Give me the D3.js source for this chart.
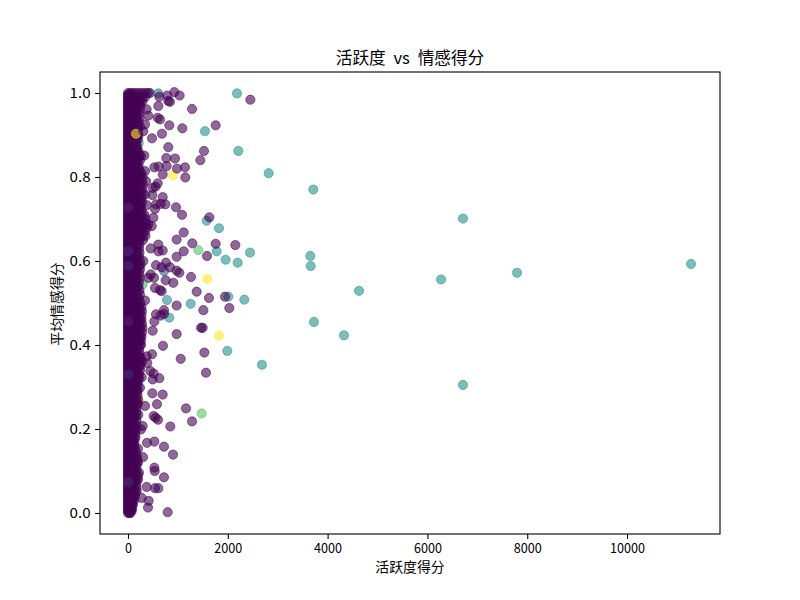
<!DOCTYPE html>
<html><head><meta charset="utf-8">
<script src="https://cdn.jsdelivr.net/npm/d3@7"></script>
<style>html,body{margin:0;padding:0;background:#fff}svg{display:block}</style>
</head><body><div id="c"></div>
<script>
const chartTitle = "活跃度 vs 情感得分";
const xLabel = "活跃度得分";
const yLabel = "平均情感得分";
const xTicks = [0,2000,4000,6000,8000,10000];
const yTicks = [0,0.2,0.4,0.6,0.8,1.0];

// Saturated column near zero: [sentiment, activity, activity, ...]
const denseRows = [
[1.00,0,50,100,160,220,280,340,400,440],[0.99,0,50,110,170,230,290,340],[0.98,0,60,120,180,240,290],[0.97,0,50,110,170,220,250],[0.96,0,60,120,180,240],
[0.95,0,50,100,160,220],[0.94,0,60,120,180,230],[0.93,0,50,110,170,210],[0.92,0,60,120,180,240],[0.91,0,50,100,150,200],
[0.90,0,60,120,180,210],[0.89,0,50,110,170,200],[0.88,0,60,120,170],[0.87,0,50,100,160,190],[0.86,0,60,120,180,210],
[0.85,0,50,110,170,230,260],[0.84,0,60,120,180,240],[0.83,0,50,100,160,210],[0.82,0,60,120,180,220],[0.81,0,50,110,170,230,270],
[0.80,0,60,120,180,240,290],[0.79,0,50,100,160,220,280],[0.78,0,60,120,180,240,300],[0.77,0,50,110,170,230,280],[0.76,0,60,120,180,240,290],
[0.75,0,50,100,160,220,270],[0.74,0,60,120,180,240,280],[0.73,0,50,110,170,230,260],[0.72,0,60,120,180,240,270],[0.71,0,50,100,160,220,280,330],
[0.70,0,60,120,180,240,300,350],[0.69,0,50,110,170,230,290,360],[0.68,0,60,120,180,240,300,380],[0.67,0,50,100,160,220,280,340],[0.66,0,60,120,180,240,300,350],
[0.65,0,50,110,170,230,300],[0.64,0,60,120,180,230],[0.63,0,50,100,160,220],[0.62,0,60,120,180,230],[0.61,0,50,110,170,220],
[0.60,0,60,120,180,240],[0.59,0,50,100,160,220,250],[0.58,0,60,120,180,240],[0.57,0,50,110,170,230],[0.56,0,60,120,180,230],
[0.55,0,50,100,160,220],[0.54,0,60,120,180,210],[0.53,0,50,110,170,230],[0.52,0,60,120,180,240],[0.51,0,50,100,160,220],
[0.50,0,60,120,180,250],[0.49,0,50,110,170,230,270],[0.48,0,60,120,180,240,280],[0.47,0,50,100,160,220,270],[0.46,0,60,120,180,240,270],
[0.45,0,50,110,170,230,280],[0.44,0,60,120,180,240,290],[0.43,0,50,100,160,220,280],[0.42,0,60,120,180,240,270],[0.41,0,50,110,170,230,260],
[0.40,0,60,120,180,240,260],[0.39,0,50,100,160,220],[0.38,0,60,120,180,230],[0.37,0,50,110,170,230,260],[0.36,0,60,120,180,240,280],
[0.35,0,50,100,160,220,250],[0.34,0,60,120,180,240],[0.33,0,50,110,170,220],[0.32,0,60,120,180,220],[0.31,0,50,100,160,200],
[0.30,0,60,120,190],[0.29,0,50,110,170,190],[0.28,0,60,120,190],[0.27,0,50,100,160,200],[0.26,0,60,120,180,200],
[0.25,0,50,110,170],[0.24,0,60,120,170],[0.23,0,50,100,160],[0.22,0,60,120,170],[0.21,0,50,110,160],
[0.20,0,60,120,160],[0.19,0,50,100,150],[0.18,0,60,120,150],[0.17,0,50,100,130],[0.16,0,60,130],
[0.15,0,50,110,150],[0.14,0,60,120,170],[0.13,0,50,100,160,190],[0.12,0,60,120,180,200],[0.11,0,50,110,170],
[0.10,0,60,120,170],[0.09,0,50,100,160,200],[0.08,0,60,120,180,200],[0.07,0,50,110,170],[0.06,0,60,120,170],
[0.05,0,50,100,150],[0.04,0,60,120,140],[0.03,0,50,90,120],[0.02,0,40,80,100],[0.01,0,30,60,80],[0.00,0,30,50]
];
// More near-zero users between the rows above
const fillActivity = [0,12,30,75];
const fillSentiment = [0.995,0.985,0.975,0.965,0.955,0.945,0.935,0.925,0.915,0.905,0.895,0.885,0.875,0.865,0.855,0.845,0.835,0.825,0.815,0.805,0.795,0.785,0.775,0.765,0.755,0.745,0.735,0.725,0.715,0.705,0.695,0.685,0.675,0.665,0.655,0.645,0.635,0.625,0.615,0.605,0.595,0.585,0.575,0.565,0.555,0.545,0.535,0.525,0.515,0.505,0.495,0.485,0.475,0.465,0.455,0.445,0.435,0.425,0.415,0.405,0.395,0.385,0.375,0.365,0.355,0.345,0.335,0.325,0.315,0.305,0.295,0.285,0.275,0.265,0.255,0.245,0.235,0.225,0.215,0.205,0.195,0.185,0.175,0.165,0.155,0.145,0.135,0.125,0.115,0.105,0.095,0.085,0.075,0.065,0.055,0.045,0.035,0.025,0.015,0.005];

// Individually readable purple points
const purpleActivity = [929,788,1035,808,840,608,628,1283,2452,407,374,595,641,828,1089,1757,341,681,481,307,808,1523,768,942,1450,528,615,775,982,1142,695,1149,327,341,361,595,554,494,488,341,695,748,561,655,541,374,962,1082,1630,508,407,475,1116,975,608,454,608,695,1289,1757,2151,1116,1583,975,307,561,761,675,842,975,1029,454,407,521,1263,755,908,541,641,675,1376,1623,1944,341,975,1510,2031,721,721,655,561,528,494,975,1463,1496,701,1530,481,1056,374,387,1563,447,514,628,494,274,240,488,695,581,341,1162,514,601,555,1283,207,294,848,261,381,528,721,200,301,902,528,535,220,721,374,541,608,274,414,401,795,174];
const purpleSentiment = [1.002,0.994,0.994,0.981,0.979,0.969,0.991,0.962,0.984,0.946,0.961,0.941,0.937,0.923,0.916,0.923,0.925,0.903,0.892,0.909,0.871,0.862,0.845,0.844,0.840,0.823,0.825,0.826,0.820,0.823,0.806,0.799,0.851,0.814,0.790,0.785,0.777,0.774,0.757,0.758,0.752,0.735,0.735,0.736,0.724,0.733,0.728,0.710,0.704,0.703,0.687,0.683,0.668,0.651,0.639,0.630,0.623,0.625,0.642,0.641,0.638,0.623,0.612,0.610,0.600,0.590,0.596,0.585,0.585,0.577,0.572,0.568,0.560,0.560,0.562,0.554,0.548,0.536,0.531,0.528,0.527,0.512,0.515,0.506,0.494,0.483,0.488,0.483,0.474,0.470,0.473,0.456,0.434,0.426,0.441,0.441,0.398,0.382,0.378,0.367,0.373,0.357,0.334,0.338,0.332,0.321,0.318,0.323,0.298,0.285,0.282,0.259,0.255,0.249,0.231,0.222,0.227,0.218,0.234,0.207,0.206,0.199,0.167,0.170,0.158,0.153,0.133,0.139,0.108,0.100,0.096,0.085,0.062,0.059,0.059,0.036,0.029,0.013,0.002,0.052];

// Other groups partly hidden under the column
const underActivity = [154,220,220,294];
const underSentiment = [0.390,0.268,0.881,0.544];
const underColor = [1,1,0.68,0.68];

// Other groups lying on top: value on the colour scale
const otherActivity = [2184,1543,2211,2819,3714,1577,1824,1777,2445,1957,2198,3654,3661,782,1256,2331,2011,6713,11283,7796,6273,4629,3727,4329,2685,6713,1990,828,608,1409,1476,902,1590,1824,160,7,7,7,721,7,7,7];
const otherSentiment = [0.999,0.909,0.862,0.809,0.770,0.696,0.678,0.623,0.620,0.603,0.596,0.612,0.588,0.507,0.498,0.508,0.515,0.701,0.593,0.572,0.556,0.529,0.455,0.423,0.353,0.305,0.386,0.465,0.999,0.626,0.237,0.804,0.557,0.422,0.903,0.727,0.623,0.588,0.576,0.457,0.330,0.073];
const otherColor = [0.5,0.5,0.5,0.5,0.5,0.5,0.5,0.5,0.5,0.5,0.5,0.5,0.5,0.5,0.5,0.5,0.5,0.5,0.5,0.5,0.5,0.5,0.5,0.5,0.5,0.5,0.5,0.5,0.4,0.73,0.73,1,1,1,1,0.1,0.12,0.1,0.25,0.1,0.12,0.12];

const W=800,H=600,m={l:100,r:720,t:72,b:534};
const svg=d3.select("#c").append("svg").attr("width",W).attr("height",H);
const cjk="'Noto Sans CJK SC','Noto Sans',sans-serif";
const x=d3.scaleLinear().domain([-561,11863]).range([m.l,m.r]);
const y=d3.scaleLinear().domain([-0.05,1.05]).range([m.b,m.t]);
const color=d3.scaleSequential(d3.interpolateViridis).domain([0,1]);

const under=underActivity.map((a,i)=>({a,s:underSentiment[i],c:underColor[i]}));
const dense=denseRows.flatMap(r=>r.slice(1).map(a=>({a,s:r[0],c:0})));
const fill=fillSentiment.flatMap(s=>fillActivity.map(a=>({a,s,c:0})));
const others=otherActivity.map((a,i)=>({a,s:otherSentiment[i],c:otherColor[i]}));
const purple=purpleActivity.map((a,i)=>({a,s:purpleSentiment[i],c:0}));
const pts=under.concat(dense,fill,others,purple);

svg.append("g").selectAll("circle").data(pts).join("circle")
  .attr("cx",d=>x(d.a)).attr("cy",d=>y(d.s)).attr("r",4.6)
  .attr("fill",d=>color(d.c)).attr("stroke",d=>color(d.c))
  .attr("stroke-width",0.9).attr("fill-opacity",0.6).attr("stroke-opacity",0.6);

svg.append("rect").attr("x",m.l).attr("y",m.t).attr("width",m.r-m.l).attr("height",m.b-m.t)
  .attr("fill","none").attr("stroke","#000").attr("stroke-width",1.1);

function style(g){
  g.select(".domain").remove();
  g.selectAll(".tick line").attr("stroke","#000").attr("stroke-width",1.1);
  g.selectAll(".tick text").attr("fill","#000").attr("font-family",cjk).attr("font-size",13.9)
   .attr("textLength",function(){return this.textContent.length*7;}).attr("lengthAdjust","spacingAndGlyphs");
}
svg.append("g").attr("transform",`translate(0,${m.b})`)
  .call(d3.axisBottom(x).tickValues(xTicks).tickFormat(d3.format("d")).tickSize(4.9).tickPadding(4.5)).call(style);
svg.append("g").attr("transform",`translate(${m.l},0)`)
  .call(d3.axisLeft(y).tickValues(yTicks).tickFormat(d3.format(".1f")).tickSize(4.9).tickPadding(4.5)).call(style);

svg.append("text").attr("x",410).attr("y",64).attr("text-anchor","middle")
  .attr("font-family",cjk).attr("font-size",16.67).attr("word-spacing",4).text(chartTitle);
svg.append("text").attr("x",410).attr("y",572).attr("text-anchor","middle")
  .attr("font-family",cjk).attr("font-size",13.9).text(xLabel);
svg.append("text").attr("transform","translate(62,304) rotate(-90)").attr("text-anchor","middle")
  .attr("font-family",cjk).attr("font-size",13.9).text(yLabel);
</script></body></html>
